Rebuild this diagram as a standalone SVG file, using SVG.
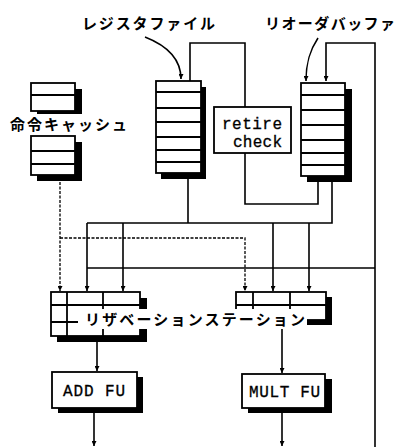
<svg xmlns="http://www.w3.org/2000/svg" width="399" height="447" viewBox="0 0 399 447">
<style>
.bx{fill:#fff;stroke:#000;stroke-width:1.8}
.sh{fill:#000}
.rw{stroke:#000;stroke-width:1.8}
.ln{fill:none;stroke:#000;stroke-width:1.6}
.ds{fill:none;stroke:#000;stroke-width:1.3;stroke-dasharray:3 1.5}
.jp{font-family:"Noto Sans CJK JP","Noto Sans",sans-serif;font-weight:700;font-size:15px;fill:#000}
.mn{font-family:"Liberation Mono","DejaVu Sans Mono",monospace;font-size:16px;fill:#000;stroke:#000;stroke-width:0.3}
</style>
<defs>
<marker id="ah" viewBox="0 0 6 6" refX="6" refY="3" markerWidth="5" markerHeight="5" orient="auto" markerUnits="userSpaceOnUse"><path d="M0,0 L6,3 L0,6 z" fill="#000"/></marker>
</defs>
<rect width="399" height="447" fill="#fff"/>

<g id="connectors">
<path class="ln" d="M145,37 C168,46 181,60 181,79" marker-end="url(#ah)"/>
<path class="ln" d="M318,38 C310,50 306,62 306,81" marker-end="url(#ah)"/>
<path class="ln" d="M190,81 V43 H245 V107"/>
<path class="ln" d="M375,447 V43 H326 V81" marker-end="url(#ah)"/>
<path class="ln" d="M245,153 V204 H318 V182"/>
<path class="ln" d="M188,179 V223"/>
<path class="ln" d="M332,182 V223 H87"/>
<path class="ln" d="M87,223 V291" marker-end="url(#ah)"/>
<path class="ln" d="M123,223 V291" marker-end="url(#ah)"/>
<path class="ln" d="M273,223 V291" marker-end="url(#ah)"/>
<path class="ln" d="M309,223 V291" marker-end="url(#ah)"/>
<path class="ln" d="M87,268 H375"/>
<path class="ds" d="M60,182 V291" marker-end="url(#ah)"/>
<path class="ds" d="M60,238 H245 V291" marker-end="url(#ah)"/>
<path class="ln" d="M97,342 V371" marker-end="url(#ah)"/>
<path class="ln" d="M282,329 V373" marker-end="url(#ah)"/>
<path class="ln" d="M94,413 V446" marker-end="url(#ah)"/>
<path class="ln" d="M282,413 V446" marker-end="url(#ah)"/>
</g>

<g id="label-regfile"><text class="jp" x="82" y="29" textLength="133" lengthAdjust="spacing">レジスタファイル</text></g>
<g id="label-rob"><text class="jp" x="265" y="29" textLength="130" lengthAdjust="spacing">リオーダバッファ</text></g>

<g id="icache">
<rect class="sh" x="37" y="89" width="45" height="28"/>
<rect class="bx" x="31" y="83" width="44" height="28"/>
<line class="rw" x1="31" y1="95" x2="75" y2="95"/>
<rect class="sh" x="37" y="142" width="45" height="39"/>
<rect class="bx" x="31" y="136" width="44" height="39"/>
<line class="rw" x1="31" y1="151" x2="75" y2="151"/>
<line class="rw" x1="31" y1="164" x2="75" y2="164"/>
<rect x="9" y="114" width="120" height="20" fill="#fff"/>
<text class="jp" x="10" y="130" textLength="117" lengthAdjust="spacing">命令キャッシュ</text>
</g>

<g id="regfile">
<rect class="sh" x="161" y="87" width="45" height="92"/>
<rect class="bx" x="156" y="81" width="45" height="92"/>
<line class="rw" x1="156" y1="92" x2="201" y2="92"/>
<line class="rw" x1="156" y1="108" x2="201" y2="108"/>
<line class="rw" x1="156" y1="122" x2="201" y2="122"/>
<line class="rw" x1="156" y1="137" x2="201" y2="137"/>
<line class="rw" x1="156" y1="150" x2="201" y2="150"/>
<line class="rw" x1="156" y1="162" x2="201" y2="162"/>
</g>

<g id="retire">
<rect class="bx" x="214" y="107" width="77" height="46"/>
<text class="mn" x="222" y="129" textLength="60" lengthAdjust="spacing">retire</text>
<text class="mn" x="233" y="147" textLength="49" lengthAdjust="spacing">check</text>
</g>

<g id="rob">
<rect class="sh" x="307" y="89" width="45" height="93"/>
<rect class="bx" x="301" y="83" width="44" height="93"/>
<line class="rw" x1="301" y1="95" x2="345" y2="95"/>
<line class="rw" x1="301" y1="110" x2="345" y2="110"/>
<line class="rw" x1="301" y1="125" x2="345" y2="125"/>
<line class="rw" x1="301" y1="140" x2="345" y2="140"/>
<line class="rw" x1="301" y1="153" x2="345" y2="153"/>
<line class="rw" x1="301" y1="165" x2="345" y2="165"/>
</g>

<g id="rs-add">
<rect class="sh" x="57" y="298" width="90" height="44"/>
<rect class="bx" x="51" y="292" width="89" height="44"/>
<line class="rw" x1="51" y1="305" x2="140" y2="305"/>
<line class="rw" x1="51" y1="322" x2="140" y2="322"/>
<line class="rw" x1="67" y1="292" x2="67" y2="336"/>
<line class="rw" x1="103" y1="292" x2="103" y2="336"/>
</g>

<g id="rs-mult">
<rect class="sh" x="242" y="297" width="90" height="28"/>
<rect class="bx" x="236" y="292" width="90" height="28"/>
<line class="rw" x1="236" y1="305" x2="326" y2="305"/>
<line class="rw" x1="253" y1="292" x2="253" y2="320"/>
<line class="rw" x1="290" y1="292" x2="290" y2="320"/>
</g>

<g id="rs-label">
<rect x="78" y="309" width="229" height="20" fill="#fff"/>
<text class="jp" x="85" y="325" textLength="220" lengthAdjust="spacing">リザベーションステーション</text>
</g>

<g id="add-fu">
<rect class="sh" x="58" y="377" width="85" height="36"/>
<rect class="bx" x="52" y="372" width="85" height="36"/>
<text class="mn" x="63" y="396" textLength="62" lengthAdjust="spacing">ADD FU</text>
</g>

<g id="mult-fu">
<rect class="sh" x="248" y="379" width="84" height="34"/>
<rect class="bx" x="242" y="374" width="83" height="34"/>
<text class="mn" x="249" y="397" textLength="71" lengthAdjust="spacing">MULT FU</text>
</g>
</svg>
